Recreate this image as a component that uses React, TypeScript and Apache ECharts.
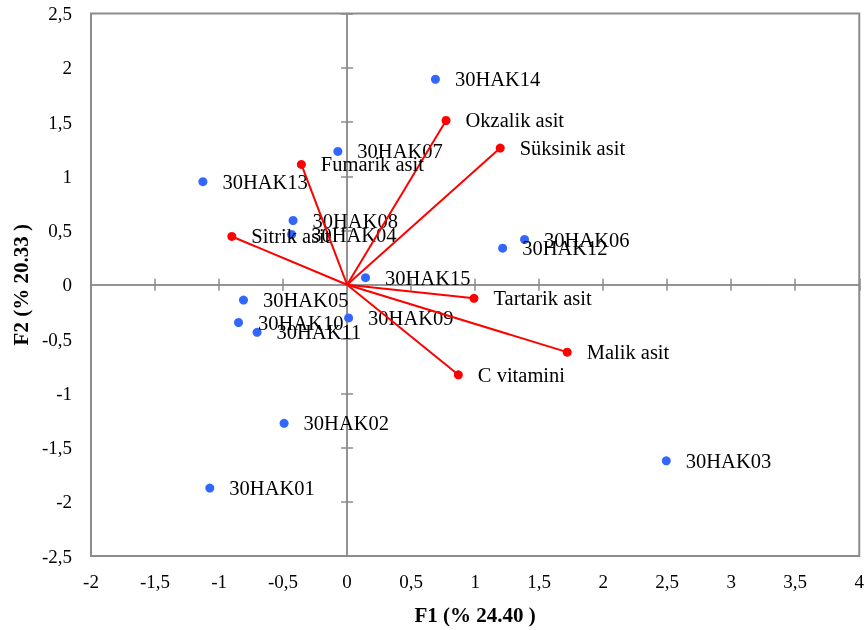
import React, { useEffect, useRef } from 'react';
import * as echarts from 'echarts';

const obsNames = ['30HAK01', '30HAK02', '30HAK03', '30HAK04', '30HAK05', '30HAK06', '30HAK07', '30HAK08', '30HAK09', '30HAK10', '30HAK11', '30HAK12', '30HAK13', '30HAK14', '30HAK15'];
const obsX = [-1.072, -0.492, 2.493, -0.433, -0.809, 1.386, -0.072, -0.422, 0.012, -0.848, -0.703, 1.215, -1.126, 0.69, 0.144];
const obsY = [-1.874, -1.277, -1.623, 0.463, -0.141, 0.417, 1.229, 0.592, -0.306, -0.348, -0.438, 0.337, 0.95, 1.894, 0.065];

const varNames = ['Okzalik asit', 'Süksinik asit', 'Fumarik asit', 'Sitrik asit', 'Tartarik asit', 'Malik asit', 'C vitamini'];
const varX = [0.773, 1.196, -0.357, -0.9, 0.991, 1.719, 0.869];
const varY = [1.514, 1.26, 1.109, 0.445, -0.125, -0.621, -0.83];

const xMin = -2, xMax = 4, xStep = 0.5;
const yMin = -2.5, yMax = 2.5, yStep = 0.5;
const xTitle = 'F1 (% 24.40 )';
const yTitle = 'F2 (% 20.33 )';

const FONT = '"Liberation Serif", "Times New Roman", serif';
const GRAY = '#8c8c8c';

const fmt = (v: number) => String(v).replace('.', ',');

export default function App() {
  const ref = useRef<HTMLDivElement>(null);
  useEffect(() => {
    if (!ref.current) return;
    const chart = echarts.init(ref.current, undefined, { renderer: 'svg' });
    const tickLine = { color: GRAY, width: 1.5 };
    const zeroX = (inside: boolean) => ({
      type: 'value', min: xMin, max: xMax, interval: xStep, position: 'bottom',
      axisLine: { show: true, onZero: true, onZeroAxisIndex: 0, lineStyle: { color: GRAY, width: 1.5 } },
      axisTick: { show: true, inside, length: 6, lineStyle: tickLine },
      axisLabel: { show: false }, splitLine: { show: false },
    });
    const zeroY = (inside: boolean) => ({
      type: 'value', min: yMin, max: yMax, interval: yStep, position: 'left',
      axisLine: { show: true, onZero: true, onZeroAxisIndex: 0, lineStyle: { color: GRAY, width: 1.5 } },
      axisTick: { show: true, inside, length: 6, lineStyle: tickLine },
      axisLabel: { show: false }, splitLine: { show: false },
    });
    const labelStyle = { fontFamily: FONT, fontSize: 20.5, color: '#000' };
    chart.setOption({
      animation: false,
      grid: {
        left: 91, right: 6, top: 13.5, bottom: 72.7, containLabel: false,
        show: true, borderColor: GRAY, borderWidth: 2, backgroundColor: 'transparent',
      },
      xAxis: [
        {
          type: 'value', min: xMin, max: xMax, interval: xStep, position: 'bottom',
          axisLine: { show: false, onZero: false }, axisTick: { show: false }, splitLine: { show: false },
          axisLabel: { formatter: fmt, fontFamily: FONT, fontSize: 19, color: '#000', margin: 16 },
          name: xTitle, nameLocation: 'middle', nameGap: 48,
          nameTextStyle: { fontFamily: FONT, fontSize: 21, fontWeight: 'bold', color: '#000' },
        },
        zeroX(false),
        zeroX(true),
      ],
      yAxis: [
        {
          type: 'value', min: yMin, max: yMax, interval: yStep, position: 'left',
          axisLine: { show: false, onZero: false }, axisTick: { show: false }, splitLine: { show: false },
          axisLabel: { formatter: fmt, fontFamily: FONT, fontSize: 19, color: '#000', margin: 19 },
          name: yTitle, nameLocation: 'middle', nameGap: 59, nameRotate: 90,
          nameTextStyle: { fontFamily: FONT, fontSize: 21, fontWeight: 'bold', color: '#000' },
        },
        zeroY(false),
        zeroY(true),
      ],
      series: [
        {
          type: 'scatter', name: 'obs', symbolSize: 9, z: 2,
          itemStyle: { color: '#3366ff', opacity: 1 },
          data: obsNames.map((n, i) => [obsX[i], obsY[i], n]),
          label: { show: true, position: 'right', distance: 15, formatter: (p: any) => p.data[2], ...labelStyle },
        },
        {
          type: 'lines', coordinateSystem: 'cartesian2d', z: 3, silent: true,
          lineStyle: { color: '#ff0000', width: 2, opacity: 1 },
          data: varNames.map((n, i) => ({ coords: [[0, 0], [varX[i], varY[i]]] })),
        },
        {
          type: 'scatter', name: 'vars', symbolSize: 9, z: 4,
          itemStyle: { color: '#ff0000', opacity: 1 },
          data: varNames.map((n, i) => [varX[i], varY[i], n]),
          label: { show: true, position: 'right', distance: 15, formatter: (p: any) => p.data[2], ...labelStyle },
        },
      ],
    } as any);
    return () => chart.dispose();
  }, []);
  return <div ref={ref} style={{ position: 'fixed', left: 0, top: 0, width: 867, height: 630 }} />;
}
